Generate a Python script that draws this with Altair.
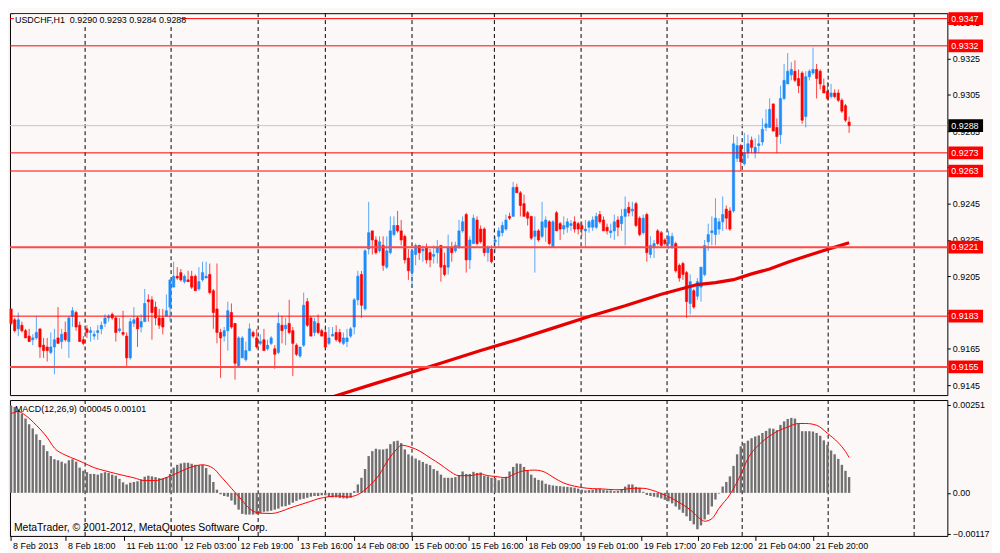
import altair as alt
import pandas as pd

# ---------------- data (prices in pips above 0.9000, MACD in 1e-5) ----------------
opens = [187,181,176,178,175,172,170,171,176,167,166,163,166,171,169,174,169,183,185,178,
         170,176,174,172,174,176,179,182,184,182,175,174,172,160,179,182,177,180,192,192,
         188,182,182,183,188,199,205,207,202,203,205,205,198,203,204,206,197,187,174,172,
         175,185,179,155,160,159,164,174,171,168,170,165,168,165,163,178,176,179,175,167,
         161,167,191,182,174,179,175,174,168,172,174,174,168,169,172,177,192,206,187,220,
         230,225,219,222,210,218,228,233,230,227,215,207,217,222,219,221,218,216,218,222,
         211,210,221,219,221,230,239,214,223,236,231,231,218,220,224,227,229,231,238,238,
         254,251,245,240,238,227,230,227,232,235,221,240,234,231,232,233,235,234,233,230,
         232,232,232,239,236,232,229,230,236,234,238,243,241,245,237,229,239,217,221,230,
         229,225,223,221,223,211,212,207,190,197,194,199,206,224,229,228,231,235,242,241,
         241,270,277,267,273,280,273,277,279,287,287,300,287,283,303,311,316,318,314,317,
         293,315,317,319,318,310,307,304,306,306,302,299,290]
highs = [187,182,185,180,176,176,173,183,176,171,171,174,176,188,176,180,183,188,186,180,
         172,178,177,175,178,180,184,184,185,183,182,186,174,182,188,183,184,198,195,194,
         191,187,187,195,203,213,210,209,206,208,208,206,210,213,213,212,198,212,176,177,
         191,190,179,172,172,169,179,175,176,173,176,170,172,167,185,183,182,192,177,168,
         166,196,193,183,182,184,176,176,177,177,178,176,174,176,177,193,208,208,220,246,
         230,227,227,227,227,238,238,241,236,228,220,220,223,222,222,223,220,222,225,222,
         218,228,224,224,236,238,240,227,239,238,233,232,222,222,227,232,235,239,240,257,
         256,252,250,241,238,238,231,246,238,236,236,241,235,238,237,236,238,235,235,236,
         236,238,240,241,238,234,234,239,238,242,249,246,246,246,238,239,240,227,225,231,
         230,226,230,229,224,212,213,208,206,198,204,210,225,234,238,248,237,249,244,243,
         283,282,278,284,283,282,281,283,292,297,303,300,292,310,322,328,323,324,319,318,
         318,319,331,322,319,314,312,311,308,308,303,300,293]
lows = [178,174,172,174,171,169,167,170,160,160,158,162,151,168,165,169,160,177,175,169,
        167,171,169,170,170,173,177,180,181,169,174,172,155,159,177,166,174,180,180,170,
        178,176,173,183,180,199,203,202,201,202,198,197,197,202,204,195,176,168,149,169,
        164,176,148,155,160,158,164,171,165,167,164,164,167,154,162,168,167,173,150,161,
        160,166,177,172,172,173,172,165,167,172,169,168,167,166,171,173,189,182,186,217,
        217,217,218,208,209,217,227,229,222,212,203,199,211,214,213,212,210,212,212,202,
        205,206,213,218,220,229,207,209,223,222,223,216,213,212,218,221,227,230,236,238,
        251,238,238,233,225,207,224,226,224,222,221,230,225,228,229,230,229,228,227,221,
        229,230,231,234,230,228,226,225,227,230,222,238,238,232,227,228,213,215,215,222,
        221,222,220,220,207,202,203,182,184,187,192,191,205,219,222,222,228,230,231,230,
        240,268,263,266,270,273,270,273,277,285,287,285,273,278,302,311,313,312,306,289,
        287,313,316,303,308,306,302,303,303,301,295,290,284]
closes = [179,175,181,175,171,169,171,174,166,164,164,166,170,168,173,170,182,186,177,169,
          168,174,175,173,175,178,182,183,182,174,176,173,160,180,181,176,180,190,191,185,
          182,178,177,186,203,205,204,203,205,202,199,197,202,207,205,196,185,174,171,175,
          186,177,157,171,171,164,176,172,166,169,164,167,171,162,179,175,178,174,168,162,
          166,189,178,172,180,174,172,166,171,173,170,169,171,171,176,192,205,189,219,229,
          225,218,224,211,219,230,233,230,225,214,208,219,222,218,220,214,214,217,221,210,
          206,221,218,222,230,235,214,225,237,223,224,218,221,213,225,230,233,236,237,254,
          251,244,238,237,226,230,225,235,236,223,235,230,231,233,235,234,231,231,231,231,
          235,236,238,235,230,230,230,235,232,238,242,240,242,233,228,237,218,222,223,223,
          222,223,227,227,208,204,206,191,202,188,202,210,222,228,230,237,235,239,237,231,
          278,277,268,273,278,276,276,278,286,289,297,285,282,303,313,318,319,313,310,291,
          315,318,319,314,311,306,303,306,304,302,296,291,288]

ma_i = [89, 100, 110, 120, 130, 140, 150, 160, 170, 180, 190, 195, 200, 205, 210, 215, 220, 225, 232]
ma_v = [138.5, 145.4, 151.5, 157.7, 164.1, 170.0, 176.4, 182.8, 188.7, 195.1, 200.4, 201.5,
        203.1, 206.3, 209.0, 212.7, 216.0, 219.2, 223.5]

macd_hist = [249,245,238,226,212,196,184,167,151,136,119,105,96,93,89,84,93,96,89,72,
             63,59,54,54,52,56,59,57,52,49,40,30,24,29,31,33,38,46,49,47,
             45,42,41,45,54,72,80,84,86,86,83,80,79,80,71,52,31,9,-4,-9,
             -11,-22,-34,-48,-60,-62,-62,-62,-61,-58,-54,-53,-51,-48,-45,-39,-38,-34,-28,-23,
             -19,-17,-14,-11,-9,-9,-7,-7,-12,-13,-13,-15,-16,-16,-14,5,24,43,68,105,
             119,126,124,124,126,139,147,149,142,124,110,102,98,93,88,83,79,68,63,52,
             43,43,43,45,51,61,54,54,60,57,58,49,47,43,43,36,41,46,61,74,
             84,83,74,63,52,43,37,35,26,23,21,20,19,18,17,16,15,12,9,7,
             8,9,11,12,9,7,7,5,6,11,18,24,24,17,15,3,-6,-9,-11,-13,
             -16,-20,-24,-30,-39,-48,-57,-67,-80,-90,-104,-93,-76,-62,-39,-19,-2,18,31,47,
             77,110,133,142,149,156,161,164,171,177,184,183,179,194,204,211,214,212,198,176,
             176,176,175,171,163,150,137,121,110,97,80,63,45]

sig_i = [0,2,4,7,10,12,15,18,20,23,26,29,31,34,37,40,42,45,48,50,53,56,58,61,64,66,69,72,75,77,
         80,83,85,88,91,93,96,99,102,104,107,108,111,113,116,119,121,124,127,130,132,134,137,139,
         142,145,148,150,153,156,158,161,164,167,169,172,175,177,180,183,185,188,191,192,194,196,
         199,202,204,207,210,212,215,218,220,223,226,229,231,232]
sig_v = [226,232,221,193,158,128,108,95,86,72,63,55,50,43,35,35,40,52,66,74,80,70,48,13,-22,-45,
         -58,-59,-52,-44,-34,-24,-17,-11,-9,-12,-5,18,53,88,127,136,129,120,100,80,65,49,49,54,49,
         47,43,52,63,65,58,45,28,19,15,12,11,9,9,13,13,9,-2,-16,-28,-48,-76,-81,-74,-44,-5,52,98,
         137,162,175,188,198,198,193,170,143,118,101]

sep_pos = [20.5, 44.3, 68.4, 87.0, 111.0, 133.8, 157.8, 181.6, 202.4, 226.2, 250.0]

time_pos = [0, 15.2, 31.4, 47.3, 63.0, 79.5, 95.1, 111.1, 126.8, 142.7, 158.6, 174.6, 190.3, 206.2, 222.2]
time_lab = ["8 Feb 2013", "8 Feb 18:00", "11 Feb 11:00", "12 Feb 03:00", "12 Feb 19:00",
            "13 Feb 16:00", "14 Feb 08:00", "15 Feb 00:00", "15 Feb 16:00", "18 Feb 09:00",
            "19 Feb 01:00", "19 Feb 17:00", "20 Feb 12:00", "21 Feb 04:00", "21 Feb 20:00"]

level_thin = [347, 332, 273, 263, 183]
level_thick = [221, 155]
price_ticks = [145, 165, 185, 205, 225, 245, 265, 285, 305, 325, 345]
macd_ticks = [251, 0, -117]

header_text = "USDCHF,H1\u00a0 0.9290 0.9293 0.9284 0.9288"
macd_text = "MACD(12,26,9) 0.00045 0.00101"
copy_text = "MetaTrader, \u00a9 2001-2012, MetaQuotes Software Corp."

# ---------------- layout / style ----------------
W, H1, H2 = 945, 385, 137
FONT = "Liberation Sans"
BG = "#FCF8F7"
BLUE = "#1E8CFA"
RED = "#FF0000"

xscale = alt.Scale(domain=[-0.3, 259.2], nice=False, zero=False)
yscale = alt.Scale(domain=[139.5, 350.0], nice=False, zero=False)
mscale = alt.Scale(domain=[-123, 265], nice=False, zero=False)
cscale = alt.Scale(domain=["up", "down"], range=[BLUE, RED])

yaxis = alt.Axis(orient="right", values=price_ticks, labelExpr="'0.9' + datum.value",
                 tickSize=3, tickColor="black", domain=False, grid=False,
                 labelFont=FONT, labelFontSize=9, labelColor="black",
                 labelPadding=2, title=None)
maxis = alt.Axis(orient="right", values=macd_ticks,
                 labelExpr="datum.value == 0 ? '0.00' : format(datum.value / 100000, '.5f')",
                 tickSize=3, tickColor="black", domain=False, grid=False,
                 labelFont=FONT, labelFontSize=9, labelColor="black",
                 labelPadding=2, title=None)

n = len(closes)
cdf = pd.DataFrame({"i": list(range(n)), "o": opens, "h": highs, "l": lows, "c": closes})
cdf["dir"] = ["up" if c >= o else "down" for o, c in zip(opens, closes)]
cdf["x0"] = cdf["i"] - 0.32
cdf["x1"] = cdf["i"] + 0.32

sep_df = pd.DataFrame({"pos": sep_pos})
ma_df = pd.DataFrame({"i": ma_i, "v": ma_v})

lvl_p = [347, 332, 273, 263, 221, 183, 155]
lvl_df = pd.DataFrame({"p": lvl_p})
lvl_df["label"] = ["0.9%03d" % p for p in lvl_p]
lvl_df["lo"] = lvl_df["p"] - 3.5
lvl_df["hi"] = lvl_df["p"] + 3.5
cur_df = pd.DataFrame({"p": [closes[-1]]})
cur_df["label"] = ["0.9%03d" % p for p in cur_df["p"]]
cur_df["lo"] = cur_df["p"] - 3.5
cur_df["hi"] = cur_df["p"] + 3.5

seps = alt.Chart(sep_df).mark_rule(color="black", strokeWidth=1, strokeDash=[4, 3]).encode(
    x=alt.X("pos:Q", scale=xscale, axis=None))

cur_line = alt.Chart(cur_df).mark_rule(color="#C4C4C4", strokeWidth=1).encode(
    y=alt.Y("p:Q", scale=yscale, axis=yaxis))

wicks = alt.Chart(cdf).mark_rule(strokeWidth=1, opacity=0.75).encode(
    x=alt.X("i:Q", scale=xscale, axis=None),
    y=alt.Y("l:Q", scale=yscale, axis=yaxis), y2="h:Q",
    color=alt.Color("dir:N", scale=cscale, legend=None))

bodies = alt.Chart(cdf).mark_rect(strokeWidth=0.6).encode(
    x=alt.X("x0:Q", scale=xscale, axis=None), x2="x1:Q",
    y=alt.Y("o:Q", scale=yscale, axis=yaxis), y2="c:Q",
    color=alt.Color("dir:N", scale=cscale, legend=None),
    stroke=alt.Stroke("dir:N", scale=cscale, legend=None))

ma_line = alt.Chart(ma_df).mark_line(color="#E80000", strokeWidth=3.2, clip=True).encode(
    x=alt.X("i:Q", scale=xscale, axis=None),
    y=alt.Y("v:Q", scale=yscale, axis=yaxis))

thin_lines = alt.Chart(lvl_df[lvl_df["p"].isin(level_thin)]).mark_rule(color=RED, strokeWidth=1).encode(
    y=alt.Y("p:Q", scale=yscale, axis=yaxis))
thick_lines = alt.Chart(lvl_df[lvl_df["p"].isin(level_thick)]).mark_rule(color="#FF4A4A", strokeWidth=2).encode(
    y=alt.Y("p:Q", scale=yscale, axis=yaxis))

hdr = pd.DataFrame({"t": [header_text]})
hdr_bg = alt.Chart(hdr).mark_rect(color=BG).encode(
    x=alt.value(4), x2=alt.value(172), y=alt.value(1), y2=alt.value(12))
hdr_txt = alt.Chart(hdr).mark_text(align="left", baseline="middle", font=FONT, fontSize=9,
                                   color="black").encode(
    x=alt.value(5), y=alt.value(6.5), text="t:N")

lvl_boxes = alt.Chart(lvl_df).mark_rect(color=RED).encode(
    x=alt.value(W + 1), x2=alt.value(W + 36),
    y=alt.Y("lo:Q", scale=yscale, axis=yaxis), y2="hi:Q")
cur_box = alt.Chart(cur_df).mark_rect(color="#000000").encode(
    x=alt.value(W + 1), x2=alt.value(W + 36),
    y=alt.Y("lo:Q", scale=yscale, axis=yaxis), y2="hi:Q")
lvl_txt = alt.Chart(lvl_df).mark_text(align="left", baseline="middle", font=FONT, fontSize=9,
                                      color="white").encode(
    x=alt.value(W + 4), y=alt.Y("p:Q", scale=yscale, axis=yaxis), text="label:N")
cur_txt = alt.Chart(cur_df).mark_text(align="left", baseline="middle", font=FONT, fontSize=9,
                                      color="white").encode(
    x=alt.value(W + 4), y=alt.Y("p:Q", scale=yscale, axis=yaxis), text="label:N")

main = alt.layer(seps, cur_line, wicks, bodies, ma_line, thin_lines, thick_lines,
                 hdr_bg, hdr_txt, lvl_boxes, cur_box, lvl_txt, cur_txt).properties(width=W, height=H1)

# ---------------- MACD panel ----------------
hdf = pd.DataFrame({"i": list(range(len(macd_hist))), "v": macd_hist})
hdf["x0"] = hdf["i"] - 0.33
hdf["x1"] = hdf["i"] + 0.33
hdf["z"] = 0
sdf = pd.DataFrame({"i": sig_i, "v": sig_v})
tdf = pd.DataFrame({"pos": time_pos, "label": time_lab})

hist = alt.Chart(hdf).mark_rect(color="#707070").encode(
    x=alt.X("x0:Q", scale=xscale, axis=None), x2="x1:Q",
    y=alt.Y("v:Q", scale=mscale, axis=maxis), y2="z:Q")

signal = alt.Chart(sdf).mark_line(color=RED, strokeWidth=1, interpolate="monotone").encode(
    x=alt.X("i:Q", scale=xscale, axis=None),
    y=alt.Y("v:Q", scale=mscale, axis=maxis))

mtxt = alt.Chart(pd.DataFrame({"t": [macd_text]})).mark_text(
    align="left", baseline="middle", font=FONT, fontSize=9, color="black").encode(
    x=alt.value(5), y=alt.value(9), text="t:N")
ctxt = alt.Chart(pd.DataFrame({"t": [copy_text]})).mark_text(
    align="left", baseline="middle", font=FONT, fontSize=10.5, color="black").encode(
    x=alt.value(4), y=alt.value(H2 - 8), text="t:N")

tticks = alt.Chart(tdf).mark_rule(color="black", strokeWidth=1).encode(
    x=alt.X("pos:Q", scale=xscale, axis=None), y=alt.value(H2), y2=alt.value(H2 + 5))
tlabels = alt.Chart(tdf).mark_text(align="left", baseline="middle", dx=2, font=FONT, fontSize=9,
                                   color="black").encode(
    x=alt.X("pos:Q", scale=xscale, axis=None), y=alt.value(H2 + 10), text="label:N")

macd = alt.layer(seps, hist, signal, mtxt, ctxt, tticks, tlabels).properties(width=W, height=H2)

chart = alt.vconcat(main, macd, spacing=3).properties(
    padding={"left": 0, "top": 1, "right": 2, "bottom": 0}
).configure(background=BG).configure_view(stroke="black", strokeWidth=1)

chart.save("out.html", embed_options={"renderer": "svg", "actions": False})
